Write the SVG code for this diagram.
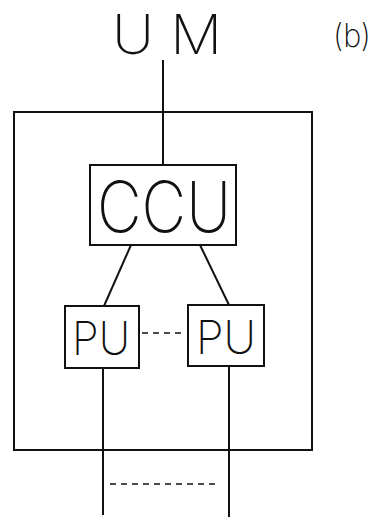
<svg xmlns="http://www.w3.org/2000/svg" width="376" height="520" viewBox="0 0 376 520">
<style>
.box{fill:none;stroke:#111;stroke-width:2}
.ln{fill:none;stroke:#111;stroke-width:2}
.dash{fill:none;stroke:#111;stroke-width:1.6;stroke-dasharray:6 5}
.t{font-family:Inter,"Open Sans","Liberation Sans",sans-serif;fill:#111;font-weight:200}
</style>
<rect width="376" height="520" fill="#fff"/>
<g id="um">
<text class="t" x="112" y="54" font-size="55" textLength="110" lengthAdjust="spacingAndGlyphs">U M</text>
</g>
<text class="t" x="333" y="47" font-size="32" textLength="38" lengthAdjust="spacingAndGlyphs">(b)</text>
<g id="outer">
<rect class="box" x="14" y="112" width="298" height="338"/>
</g>
<g id="ccu">
<rect class="box" x="90" y="165" width="146" height="80"/>
<text class="t" x="97" y="232" font-size="70" textLength="134" lengthAdjust="spacingAndGlyphs">CCU</text>
</g>
<g id="pu1">
<rect class="box" x="65" y="306" width="74" height="62"/>
<text class="t" x="72" y="355" font-size="46" textLength="58" lengthAdjust="spacingAndGlyphs">PU</text>
</g>
<g id="pu2">
<rect class="box" x="188" y="305" width="76" height="61"/>
<text class="t" x="196" y="354" font-size="46" textLength="60" lengthAdjust="spacingAndGlyphs">PU</text>
</g>
<g id="connectors">
<line class="ln" x1="163" y1="60" x2="163" y2="165"/>
<line class="ln" x1="131" y1="245" x2="104" y2="306"/>
<line class="ln" x1="200" y1="245" x2="229" y2="305"/>
<line class="dash" x1="142" y1="333" x2="186" y2="333" stroke-dasharray="5 3"/>
<line class="ln" x1="103" y1="368" x2="103" y2="515"/>
<line class="ln" x1="229" y1="366" x2="229" y2="517"/>
<line class="dash" x1="110" y1="484" x2="218" y2="484"/>
</g>
</svg>
